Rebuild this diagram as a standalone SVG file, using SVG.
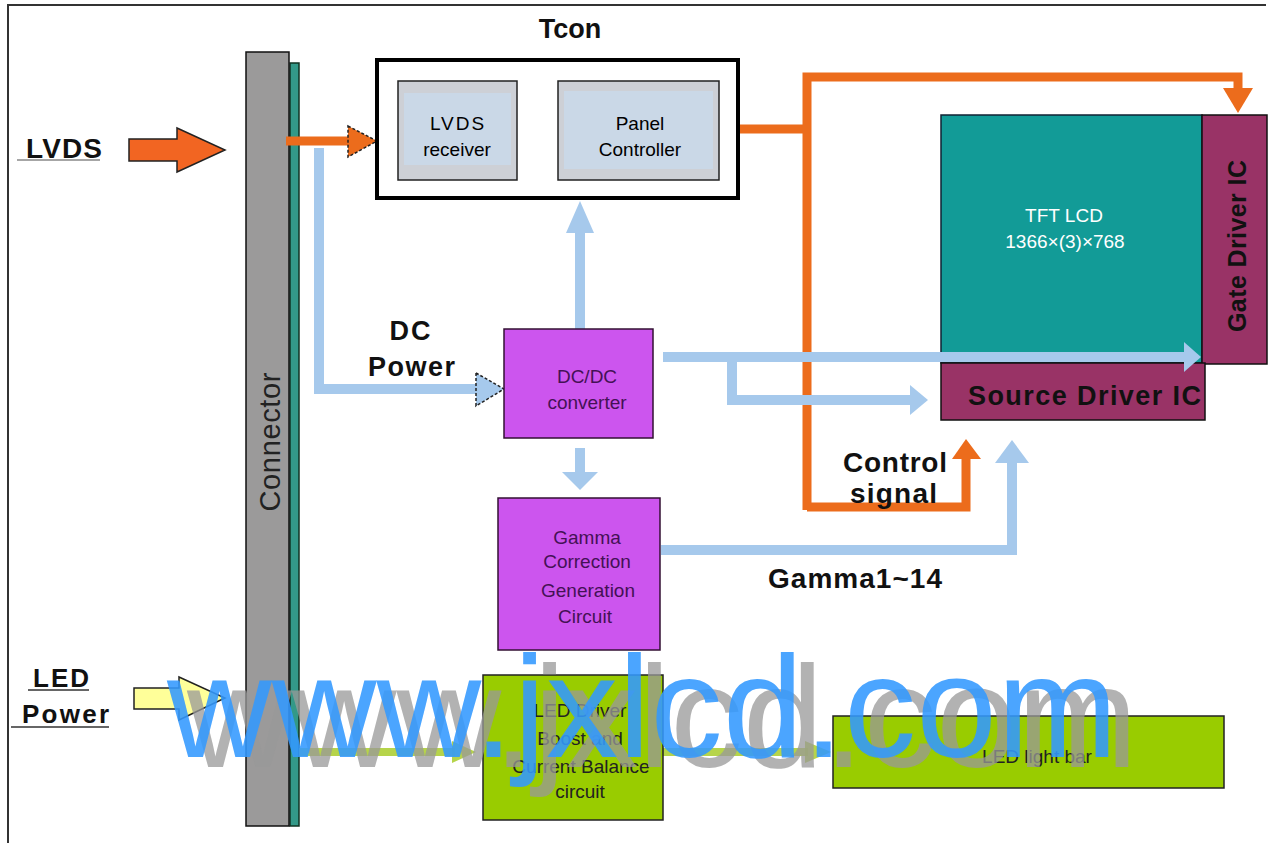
<svg xmlns="http://www.w3.org/2000/svg" width="1270" height="845" viewBox="0 0 1270 845">
<style>
.lbl{font-family:"Liberation Sans",Arial,sans-serif;font-weight:bold;fill:#111}
.box{font-family:"Liberation Sans",Arial,sans-serif;font-size:19px;text-anchor:middle}
.or{fill:none;stroke:#ec6c1c;stroke-width:9}
.orf{fill:#ec6c1c}
.bl{fill:none;stroke:#a6c9ec;stroke-width:10}
.blf{fill:#a6c9ec}
.gr{fill:none;stroke:#a9cc2a;stroke-width:8;opacity:0.85}
.grf{fill:#a9cc2a;opacity:0.85}
.dash{stroke:#222;stroke-width:1.5;stroke-dasharray:3 2}
.wm{font-family:"Liberation Sans",Arial,sans-serif;font-size:145px}
</style>
<rect width="1270" height="845" fill="#fff"/>
<!-- frame -->
<polyline points="8,843 8,5 1266,5" fill="none" stroke="#333" stroke-width="2"/>

<!-- external labels -->
<g id="lvds-input">
  <text class="lbl" x="26" y="158" font-size="28" textLength="76">LVDS</text>
  <line x1="17" y1="160" x2="100" y2="160" stroke="#888" stroke-width="1.5"/>
  <polygon points="129,139 177,139 177,128 225,150 177,172 177,161 129,161" fill="#f26522" stroke="#222" stroke-width="1.5"/>
</g>
<g id="led-power-input">
  <text class="lbl" x="33" y="687" font-size="26" textLength="56">LED</text>
  <line x1="28" y1="690" x2="89" y2="690" stroke="#333" stroke-width="1.5"/>
  <text class="lbl" x="22" y="723" font-size="26" textLength="87">Power</text>
  <line x1="11" y1="727" x2="109" y2="727" stroke="#333" stroke-width="1.5"/>
  <polygon points="134,688 179,688 179,677 225,698 179,720 179,709 134,709" fill="#ffff99" stroke="#222" stroke-width="1.5"/>
</g>

<!-- Connector -->
<g id="connector">
  <rect x="290" y="63" width="9" height="763" fill="#339988" stroke="#113322" stroke-width="1.5"/>
  <rect x="246" y="52" width="43" height="774" fill="#9b9a9a" stroke="#111" stroke-width="1.5"/>
  <text class="box" transform="translate(280,442) rotate(-90)" style="font-size:29px" textLength="139" fill="#222">Connector</text>
</g>

<!-- connectors -->
<g id="connectors">
  <!-- orange -->
  <line class="or" x1="286" y1="141" x2="350" y2="141"/>
  <polygon class="orf dash" points="348,126 377,141 348,157"/>
  <polyline class="or" points="738,129 807,129"/>
  <polyline class="or" points="807,510 807,77 1238,77 1238,92"/>
  <polygon class="orf" points="1223,88 1253,88 1238,113"/>
  <polyline class="or" points="807,507 966,507 966,456"/>
  <polygon class="orf" points="952,459 981,459 966,439"/>
  <!-- blue -->
  <polyline class="bl" points="319,148 319,389 477,389"/>
  <polygon class="blf dash" points="476,373 504,389 476,406"/>
  <line class="bl" x1="580" y1="329" x2="580" y2="230"/>
  <polygon class="blf" points="566,233 594,233 580,201"/>
  <line class="bl" x1="580" y1="448" x2="580" y2="474"/>
  <polygon class="blf" points="562,472 598,472 580,490"/>
  <polyline class="bl" points="663,357 945,357"/>
  <polyline class="bl" points="732,357 732,400 912,400"/>
  <polygon class="blf" points="910,385 928,400 910,415"/>
  <polyline class="bl" points="661,550 1012,550 1012,460"/>
  <polygon class="blf" points="995,463 1029,463 1012,440"/>
  <!-- grey internal Tcon arrow -->
  <line x1="517" y1="131" x2="542" y2="131" stroke="#bccbd8" stroke-width="12"/>
  <polygon points="540,118 558,131 540,145" fill="#bccbd8"/>
  <!-- green -->
  <line class="gr" x1="299" y1="752" x2="455" y2="752"/>
  <polygon class="grf" points="452,741 476,752 452,763"/>
  <line class="gr" x1="663" y1="752" x2="808" y2="752"/>
  <polygon class="grf" points="805,741 831,752 805,763"/>
</g>

<!-- Tcon -->
<g id="tcon">
  <text class="lbl" x="570" y="38" font-size="27" text-anchor="middle">Tcon</text>
  <rect x="377" y="60" width="361" height="138" fill="#fff" stroke="#000" stroke-width="4"/>
</g>
<g id="lvds-receiver">
  <rect x="398" y="81" width="119" height="99" fill="#cdd0d6" stroke="#222" stroke-width="1.5"/>
  <rect x="404" y="93" width="107" height="72" fill="#c9dcee" opacity="0.7"/>
  <text class="box" x="458" y="130" letter-spacing="2">LVDS</text>
  <text class="box" x="457" y="156">receiver</text>
</g>
<g id="panel-controller">
  <rect x="558" y="81" width="161" height="99" fill="#cdd0d6" stroke="#222" stroke-width="1.5"/>
  <rect x="564" y="91" width="149" height="78" fill="#c9dcee" opacity="0.7"/>
  <text class="box" x="640" y="130">Panel</text>
  <text class="box" x="640" y="156">Controller</text>
</g>

<!-- DC power label -->
<g id="dc-power-label">
  <text class="lbl" x="411" y="340" font-size="27" text-anchor="middle" letter-spacing="2">DC</text>
  <text class="lbl" x="368" y="376" font-size="27" textLength="87">Power</text>
</g>

<!-- DC/DC -->
<g id="dcdc">
  <rect x="504" y="329" width="149" height="109" fill="#cc55ee" stroke="#331133" stroke-width="1.5"/>
  <text class="box" x="587" y="383" fill="#441155">DC/DC</text>
  <text class="box" x="587" y="409" fill="#441155">converter</text>
</g>

<!-- Gamma -->
<g id="gamma">
  <rect x="498" y="498" width="162" height="152" fill="#cc55ee" stroke="#331133" stroke-width="1.5"/>
  <text class="box" x="587" y="544" fill="#441155">Gamma</text>
  <text class="box" x="587" y="568" fill="#441155">Correction</text>
  <text class="box" x="588" y="597" fill="#441155">Generation</text>
  <text class="box" x="585" y="623" fill="#441155">Circuit</text>
</g>

<!-- TFT LCD -->
<g id="tft-lcd">
  <rect x="941" y="115" width="261" height="248" fill="#129b97" stroke="#112233" stroke-width="1.5"/>
  <text class="box" x="1064" y="222" fill="#fff">TFT LCD</text>
  <text class="box" x="1065" y="248" fill="#fff">1366×(3)×768</text>
</g>
<g id="gate-driver">
  <rect x="1202" y="115" width="65" height="249" fill="#993366" stroke="#111" stroke-width="1.5"/>
  <text class="lbl" transform="translate(1246,246) rotate(-90)" font-size="25" text-anchor="middle" textLength="172" fill="#221122">Gate Driver IC</text>
</g>
<g id="source-driver">
  <rect x="941" y="363" width="264" height="57" fill="#993366" stroke="#111" stroke-width="1.5"/>
  <text class="lbl" x="968" y="405" font-size="27" textLength="233" fill="#221122">Source Driver IC</text>
</g>
<!-- blue arrow to panel, drawn over the panel -->
<g id="panel-feed">
  <line class="bl" x1="935" y1="357" x2="1188" y2="357"/>
  <polygon class="blf" points="1184,342 1201,357 1184,372"/>
</g>

<!-- labels -->
<g id="control-signal-label">
  <text class="lbl" x="843" y="472" font-size="28" textLength="104">Control</text>
  <text class="lbl" x="850" y="503" font-size="28" textLength="87">signal</text>
</g>
<g id="gamma-label">
  <text class="lbl" x="768" y="588" font-size="28" textLength="174">Gamma1~14</text>
</g>

<!-- LED -->
<g id="led-driver">
  <rect x="483" y="675" width="180" height="145" fill="#99cc00" stroke="#222" stroke-width="1.5"/>
  <text class="box" x="580" y="717" fill="#222">LED Driver</text>
  <text class="box" x="580" y="745" fill="#222">Boost and</text>
  <text class="box" x="581" y="773" fill="#222">Current Balance</text>
  <text class="box" x="580" y="798" fill="#222">circuit</text>
</g>
<g id="led-light-bar">
  <rect x="833" y="716" width="391" height="72" fill="#99cc00" stroke="#222" stroke-width="1.5"/>
  <text class="box" x="1037" y="763" fill="#222">LED light bar</text>
</g>

<!-- watermark -->
<g id="watermark">
  <text class="wm" x="187" y="767" fill="#999" opacity="0.75">www.jxlcd.com</text>
  <text class="wm" x="167" y="757" fill="#3399ff" opacity="0.88">www.jxlcd.com</text>
</g>
</svg>
